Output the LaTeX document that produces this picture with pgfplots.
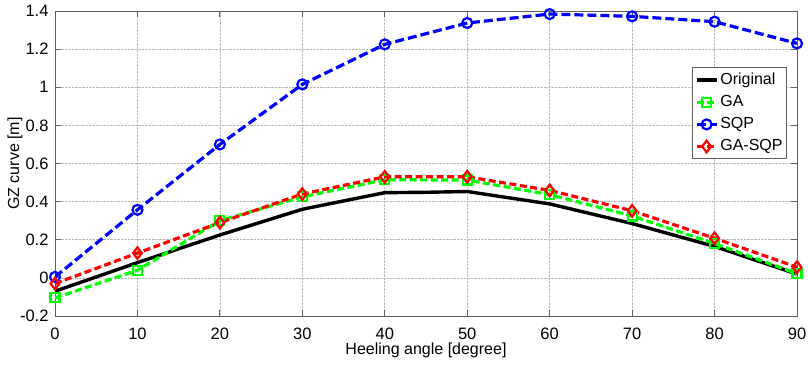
\documentclass[border=0pt]{standalone}
\usepackage{fontspec}
\setmainfont{Liberation Sans}
\usepackage{pgfplots}
\pgfplotsset{compat=1.18}
\usetikzlibrary{calc}
\begin{document}
\fontsize{16}{19}\selectfont
\begin{tikzpicture}
\begin{axis}[
  scale only axis,
  width=742pt, height=305pt,
  xmin=0, xmax=90, ymin=-0.2, ymax=1.4,
  xtick={0,10,...,90},
  ytick={-0.2,0,0.2,0.4,0.6,0.8,1,1.2,1.4},
  yticklabels={-0.2,0,0.2,0.4,0.6,0.8,1,1.2,1.4},
  /pgf/number format/assume math mode=true,
  tick label style={font=\fontsize{16.5}{19}\selectfont},
  label style={font=\fontsize{16}{19}\selectfont},
  xlabel={Heeling angle [degree]},
  ylabel={GZ curve [m]},
  xlabel style={at={(axis description cs:0.5,-0.1115)}, anchor=center},
  ylabel style={at={(axis description cs:-0.054,0.5)}, anchor=center},
  grid=major,
  major grid style={densely dotted, gray!55, line width=0.7pt},
  tick align=inside,
  major tick length=6pt,
  axis line style={gray!75!black, line width=0.9pt},
  tick style={gray!75!black, line width=0.9pt},
  xticklabel style={yshift=-6pt},
  yticklabel style={xshift=-1pt},
  legend style={at={(0.9865,0.816)}, anchor=north east,
    font=\fontsize{16}{19}\selectfont, draw=gray!75!black, line width=0.9pt,
    inner xsep=2pt, inner ysep=3.5pt, row sep=4.5pt},
  legend cell align=left,
  legend image code/.code={
    \draw[mark repeat=2,mark phase=2] plot coordinates {(0pt,0pt) (10pt,0pt) (20pt,0pt)};
  },
]
\addplot[black, line width=3.4pt] coordinates {
(0,-0.07) (10,0.08) (20,0.225) (30,0.36) (40,0.447) (45,0.449) (50,0.453) (60,0.388) (70,0.285) (80,0.165) (90,0.02)};
\addlegendentry{Original}
\addplot[color={rgb,1:red,0;green,1;blue,0}, line width=3.2pt, dash pattern=on 7pt off 3.5pt,
  mark=square, mark size=4.5pt, mark options={solid, line width=2.2pt}] coordinates {
(0,-0.105) (10,0.04) (20,0.30) (30,0.425) (40,0.515) (50,0.513) (60,0.437) (70,0.325) (80,0.18) (90,0.022)};
\addlegendentry{GA}
\addplot[blue, line width=3.2pt, dash pattern=on 9pt off 4pt,
  mark=o, mark size=5pt, mark options={solid, line width=2.2pt}] coordinates {
(0,0.005) (10,0.357) (20,0.70) (30,1.015) (40,1.225) (50,1.337) (60,1.384) (70,1.372) (80,1.344) (90,1.23)};
\addlegendentry{SQP}
\addplot[red, line width=3.2pt, dash pattern=on 7pt off 3.5pt,
  mark=diamond, mark size=5.8pt, mark options={solid, line width=2.2pt}] coordinates {
(0,-0.03) (10,0.13) (20,0.29) (30,0.44) (40,0.53) (50,0.53) (60,0.459) (70,0.352) (80,0.208) (90,0.056)};
\addlegendentry{GA-SQP}
\end{axis}
\pgfresetboundingbox
\path ($(current axis.south west)+(-55pt,-48pt)$) rectangle ($(current axis.north east)+(11pt,11pt)$);
\end{tikzpicture}
\end{document}
